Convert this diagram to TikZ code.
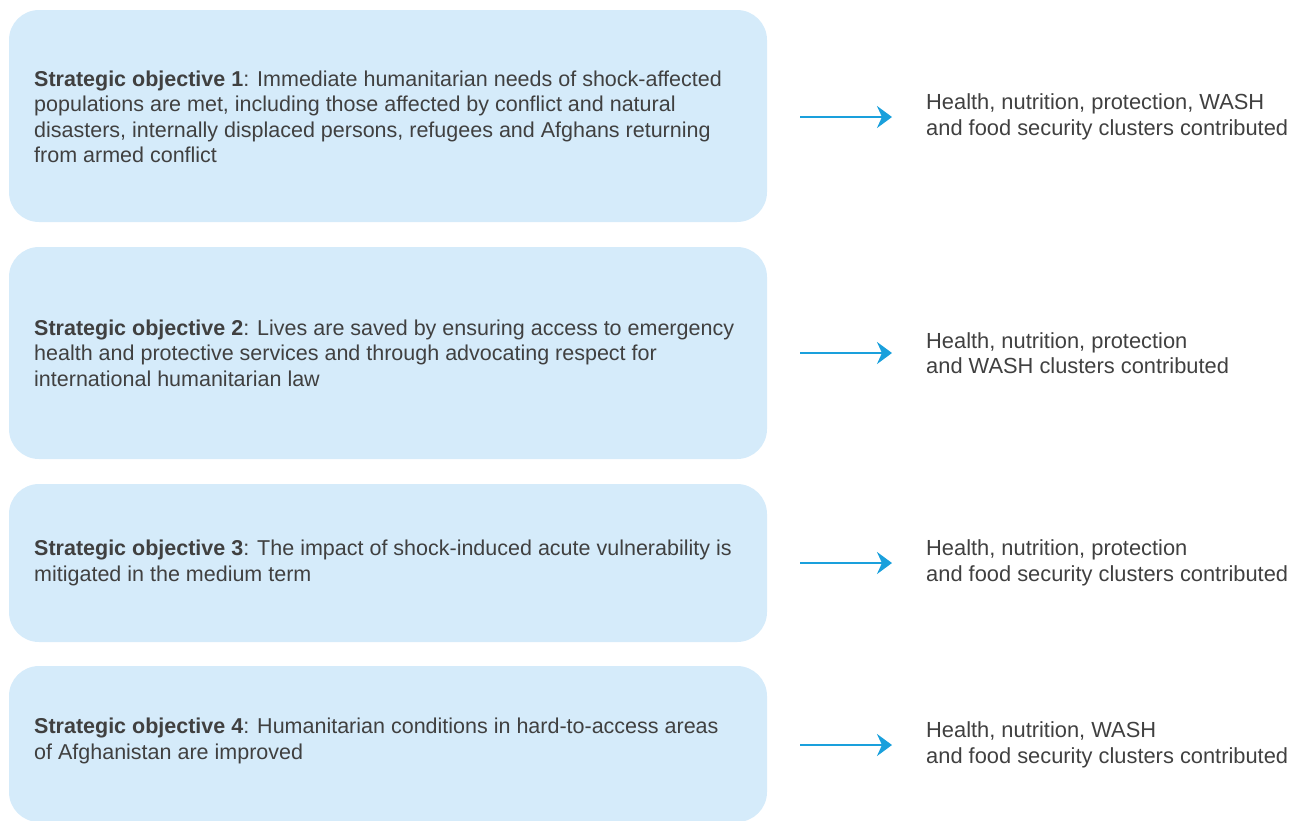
\documentclass[tikz,border=0pt]{standalone}
\usepackage{fontspec}
\setmainfont{Liberation Sans}
\usetikzlibrary{arrows.meta}
\definecolor{boxfill}{HTML}{D5EBFA}
\definecolor{txt}{HTML}{404040}
\definecolor{arr}{HTML}{1AA0DC}
\tikzset{
  objbox/.style={fill=boxfill, draw=none, rounded corners=30pt},
  objtext/.style={anchor=west, align=left, text=txt, inner sep=0pt, font=\fontsize{21.5}{25.5}\selectfont},
  outtext/.style={anchor=west, align=left, text=txt, inner sep=0pt, font=\fontsize{21.85}{25.5}\selectfont},
  link/.style={draw=arr, line width=2.6pt, -{Stealth[length=15pt,width=22pt,inset=5pt]}}
}
\begin{document}
\begin{tikzpicture}[x=1pt,y=-1pt]
\useasboundingbox (0,0) rectangle (1290,820);
\clip (0,0) rectangle (1290,820);
% boxes
\fill[objbox] (9,10) rectangle (767,222);
\fill[objbox] (9,247) rectangle (767,459);
\fill[objbox] (9,484) rectangle (767,642);
\fill[objbox] (9,666) rectangle (767,822);
% objective texts
\node[objtext] (o1) at (34,117) {\textbf{Strategic objective 1}: Immediate humanitarian needs of shock-affected\\populations are met, including those affected by conflict and natural\\disasters, internally displaced persons, refugees and Afghans returning\\from armed conflict};
\node[objtext] (o2) at (34,353) {\textbf{Strategic objective 2}: Lives are saved by ensuring access to emergency\\health and protective services and through advocating respect for\\international humanitarian law};
\node[objtext] (o3) at (34,563) {\textbf{Strategic objective 3}: The impact of shock-induced acute vulnerability is\\mitigated in the medium term};
\node[objtext] (o4) at (34,741) {\textbf{Strategic objective 4}: Humanitarian conditions in hard-to-access areas\\of Afghanistan are improved};
% outcome texts
\node[outtext] (c1) at (926,117) {Health, nutrition, protection, WASH\\and food security clusters contributed};
\node[outtext] (c2) at (926,353) {Health, nutrition, protection\\and WASH clusters contributed};
\node[outtext] (c3) at (926,563) {Health, nutrition, protection\\and food security clusters contributed};
\node[outtext] (c4) at (926,745) {Health, nutrition, WASH\\and food security clusters contributed};
% arrow anchors
\coordinate (a1s) at (800,117); \coordinate (a1e) at (892,117);
\coordinate (a2s) at (800,353); \coordinate (a2e) at (892,353);
\coordinate (a3s) at (800,563); \coordinate (a3e) at (892,563);
\coordinate (a4s) at (800,745); \coordinate (a4e) at (892,745);
\draw[link] (a1s) -- (a1e);
\draw[link] (a2s) -- (a2e);
\draw[link] (a3s) -- (a3e);
\draw[link] (a4s) -- (a4e);
\end{tikzpicture}
\end{document}
